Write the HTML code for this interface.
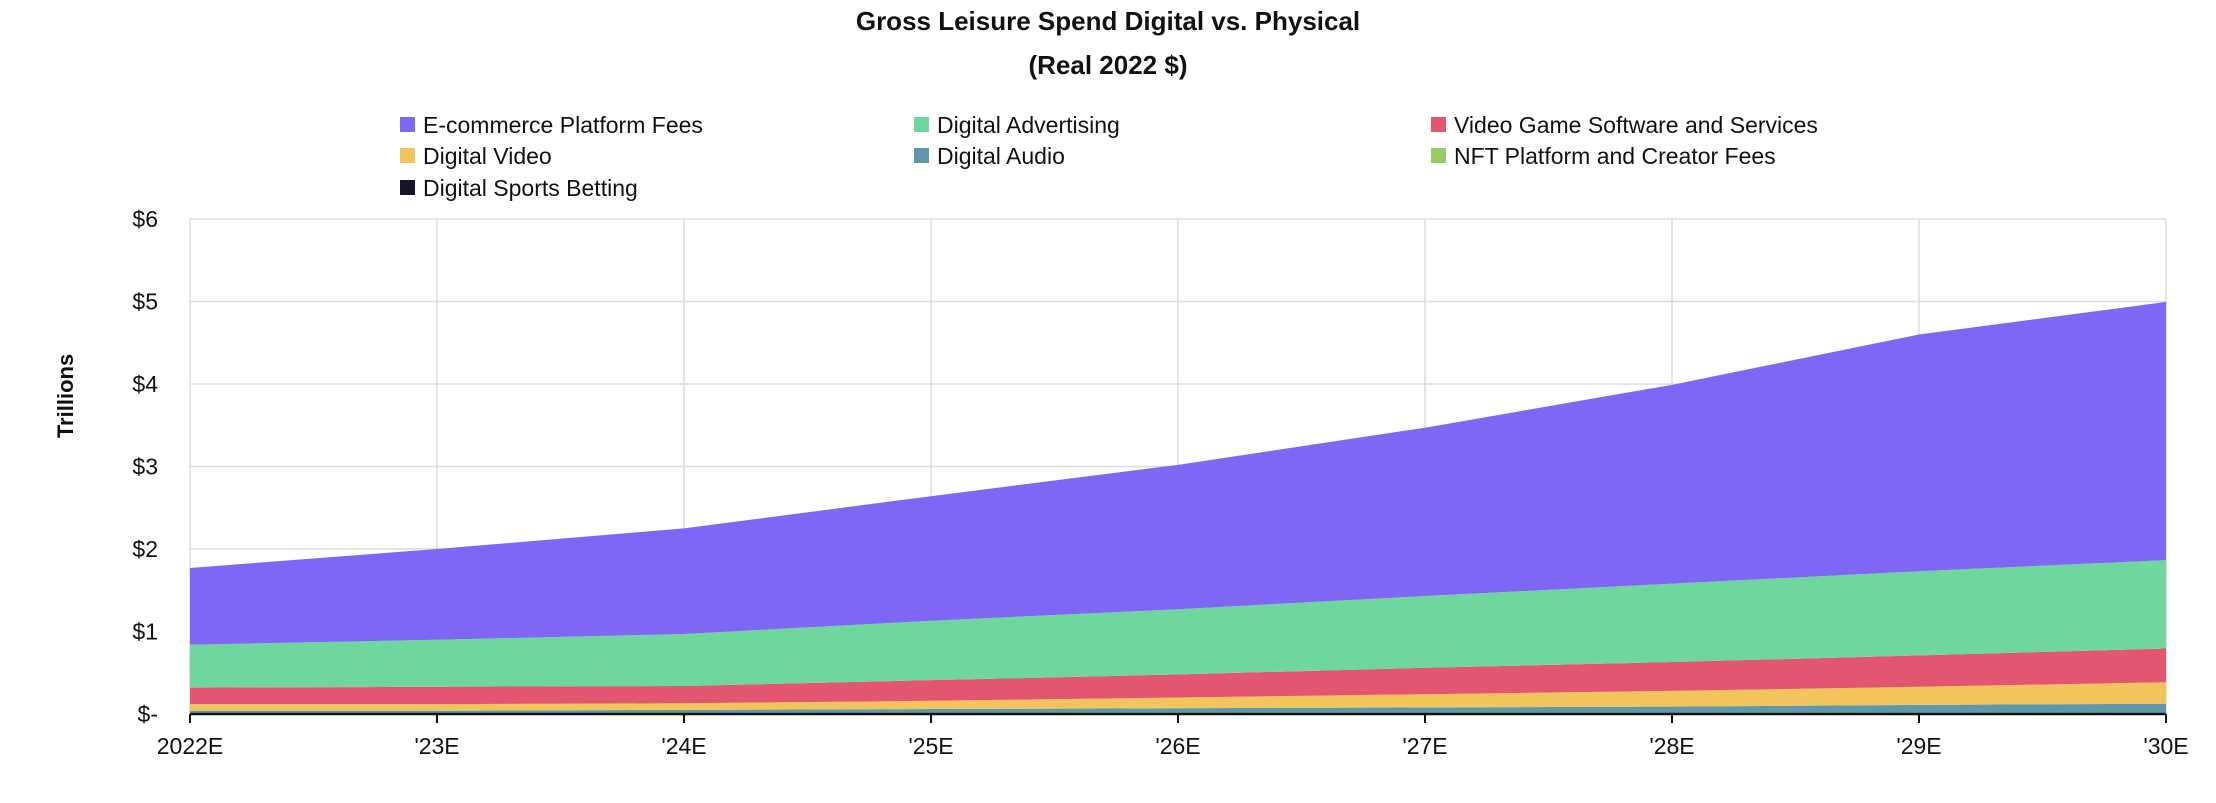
<!DOCTYPE html>
<html><head><meta charset="utf-8"><style>
body{margin:0;background:#fff;font-family:"Liberation Sans",sans-serif;}
svg text{font-family:"Liberation Sans",sans-serif;fill:#111;}
</style></head><body>
<svg id="c" width="2216" height="798" xmlns="http://www.w3.org/2000/svg">
<text x="1108" y="30" text-anchor="middle" font-size="26" font-weight="bold">Gross Leisure Spend Digital vs. Physical</text>
<text x="1108" y="74" text-anchor="middle" font-size="26" font-weight="bold">(Real 2022 $)</text>
<text transform="translate(73,396) rotate(-90)" text-anchor="middle" font-size="22" font-weight="bold">Trillions</text>
<g id="grid"></g><g id="areas"></g><g id="axes"></g><g id="legend"></g>
</svg>
<script>
const categories=["2022E","'23E","'24E","'25E","'26E","'27E","'28E","'29E","'30E"];
const betting=[0.01,0.01,0.01,0.01,0.01,0.01,0.01,0.01,0.01];
const nft=[0.005,0.005,0.005,0.005,0.005,0.005,0.005,0.005,0.005];
const audio=[0.025,0.025,0.035,0.045,0.055,0.065,0.075,0.095,0.11];
const video=[0.08,0.08,0.08,0.10,0.13,0.16,0.19,0.22,0.26];
const game=[0.20,0.21,0.21,0.25,0.28,0.32,0.35,0.38,0.41];
const ads=[0.52,0.57,0.63,0.72,0.79,0.87,0.95,1.02,1.07];
const ecom=[0.93,1.10,1.28,1.51,1.75,2.04,2.41,2.87,3.13];
const yTicks=[0,1,2,3,4,5,6];
const yTickLabels=["$-","$1","$2","$3","$4","$5","$6"];
const seriesNames=["Digital Sports Betting","NFT Platform and Creator Fees","Digital Audio","Digital Video","Video Game Software and Services","Digital Advertising","E-commerce Platform Fees"];

const NS="http://www.w3.org/2000/svg";
const L=190,R=2166,T=219,B=714,YMAX=6;
const x=i=>L+i*(R-L)/(categories.length-1);
const y=v=>B-v/YMAX*(B-T);
function mk(tag,attrs,parent){const e=document.createElementNS(NS,tag);for(const k in attrs)e.setAttribute(k,attrs[k]);parent.appendChild(e);return e;}
const grid=document.getElementById('grid'),areas=document.getElementById('areas'),axes=document.getElementById('axes'),legend=document.getElementById('legend');
yTicks.forEach((t,i)=>{
 if(t>0){const g=mk('line',{x1:L,x2:R,y1:y(t),y2:y(t),stroke:'#dcdcdc','stroke-width':1.5},grid);
 
 }
 const tx=mk('text',{x:158,y:y(t)+8,'text-anchor':'end','font-size':23},axes);tx.textContent=yTickLabels[i];
 
 
});
categories.forEach((c,i)=>{
 const g=mk('line',{x1:x(i),x2:x(i),y1:T,y2:B,stroke:'#dcdcdc','stroke-width':1.5},grid);
 
 
 const tk=mk('line',{x1:x(i),x2:x(i),y1:B,y2:B+9,stroke:'#111','stroke-width':2},axes);
 
 
 const tx=mk('text',{x:x(i),y:754,'text-anchor':'middle','font-size':23},axes);tx.textContent=c;
 
 
});
const series=[betting,nft,audio,video,game,ads,ecom];
const colors=["#16132b","#97cc64","#5e99ab","#f2c45c","#e35672","#6fd69d","#7f66f5"];
const areaNames=["area-sports-betting","area-nft","area-digital-audio","area-digital-video","area-video-game","area-digital-advertising","area-ecommerce"];
let base=categories.map(()=>0);
series.forEach((s,k)=>{
 const top=base.map((b,i)=>b+s[i]);
 let d='M'+top.map((v,i)=>x(i)+','+y(v)).join('L');
 for(let i=categories.length-1;i>=0;i--)d+='L'+x(i)+','+y(base[i]);
 const p=mk('path',{d:d+'Z',fill:colors[k]},areas);
 
 
 base=top;
});
const ax=mk('line',{x1:L,x2:R,y1:B,y2:B,stroke:'#111','stroke-width':2.5},axes);


const legOrder=[6,5,4,3,2,1,0];
const colX=[400,914,1431],rowY=[133,164,196];
legOrder.forEach((k,j)=>{
 const cx=colX[j%3],cy=rowY[Math.floor(j/3)];
 const g=mk('g',{},legend);
 
 
 mk('rect',{x:cx,y:cy-16,width:15,height:15,fill:colors[k]},g);
 const t=mk('text',{x:cx+23,y:cy,'font-size':23},g);t.textContent=seriesNames[k];
});
</script>
</body></html>
